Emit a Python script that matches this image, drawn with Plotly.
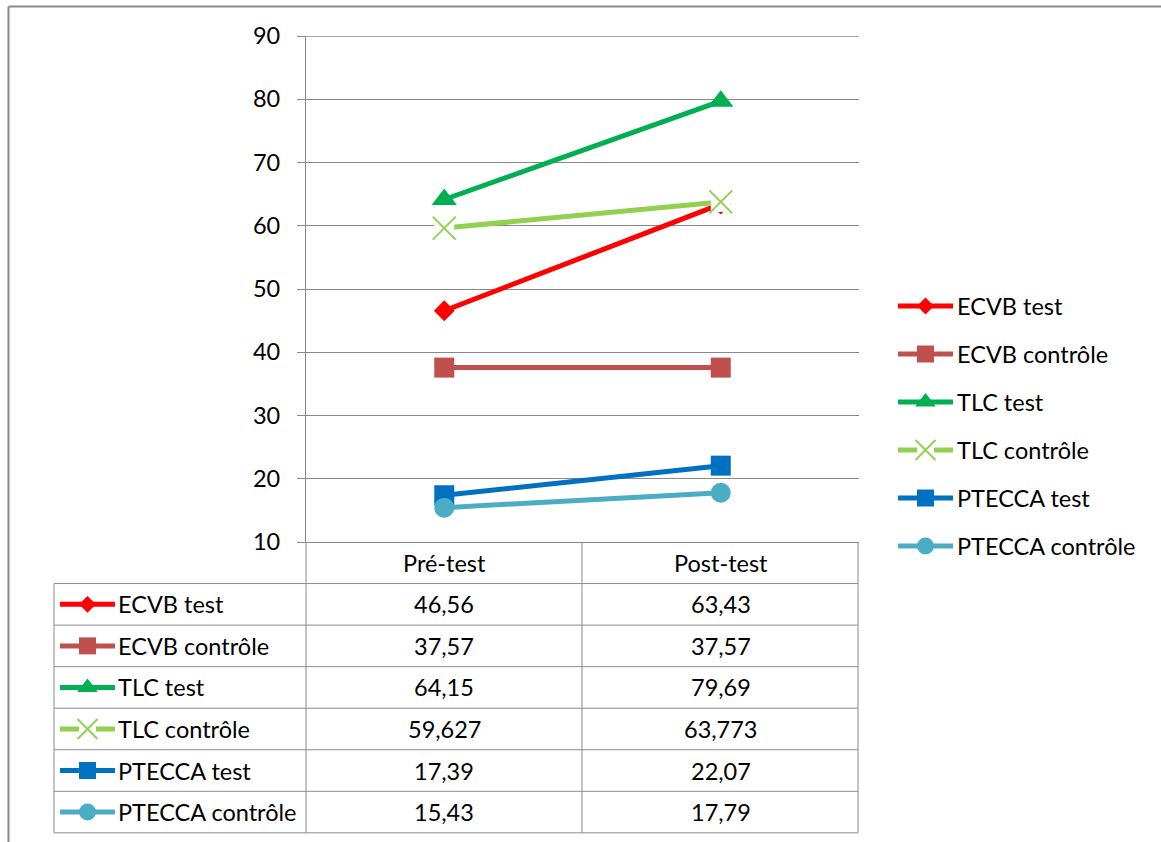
import plotly.graph_objects as go

# ---------------- data ----------------
categories = ["Pré-test", "Post-test"]
series_names = ["ECVB test", "ECVB contrôle", "TLC test", "TLC contrôle",
                "PTECCA test", "PTECCA contrôle"]
ecvb_test = [46.56, 63.43]
ecvb_controle = [37.57, 37.57]
tlc_test = [64.15, 79.69]
tlc_controle = [59.627, 63.773]
ptecca_test = [17.39, 22.07]
ptecca_controle = [15.43, 17.79]
y_ticks = [10, 20, 30, 40, 50, 60, 70, 80, 90]

series_values = [ecvb_test, ecvb_controle, tlc_test, tlc_controle,
                 ptecca_test, ptecca_controle]

# ---------------- styles ----------------
colors = ["#FF0000", "#C0504D", "#00B050", "#92D050", "#0070C0", "#4BACC6"]
symbols = ["diamond", "square", "triangle-up", "x-thin", "square", "circle"]
chart_sizes = [16, 20, 22, 23, 20, 20]
legend_sizes = [13, 17, 18, 20, 17, 17]

W, H = 1161, 842
FONT = "Lato"
FS = 23.5
GRID = "#888888"
BORDER = "#8c8c8c"


def PX(x):
    return x / W


def PY(y):
    return 1 - y / H


# layout geometry (pixels)
PLOT_L, PLOT_R, PLOT_T, PLOT_B = 306, 859, 36, 542
TAB_L, COL1, COL2 = 54, 582, 858
ROW_H = 41.55
LEG_X0, LEG_X1, LEG_Y0, LEG_DY = 898, 953, 306, 48
TKEY_X0, TKEY_X1 = 60, 115

fig = go.Figure()

# ---------------- main chart traces ----------------
for i, (name, vals) in enumerate(zip(series_names, series_values)):
    if symbols[i] == "x-thin":
        fig.add_trace(go.Scatter(x=categories, y=vals, mode="lines",
                                 line=dict(color=colors[i], width=5),
                                 showlegend=False, hoverinfo="skip"))
        fig.add_trace(go.Scatter(x=categories, y=vals, mode="markers",
                                 marker=dict(symbol="square", size=20, color="white"),
                                 showlegend=False, hoverinfo="skip"))
        fig.add_trace(go.Scatter(x=categories, y=vals, mode="markers", name=name,
                                 marker=dict(symbol="x-thin", size=chart_sizes[i],
                                             line=dict(color=colors[i], width=2)),
                                 showlegend=False))
    else:
        fig.add_trace(go.Scatter(x=categories, y=vals, mode="lines+markers", name=name,
                                 line=dict(color=colors[i], width=5),
                                 marker=dict(symbol=symbols[i], size=chart_sizes[i],
                                             color=colors[i]),
                                 showlegend=False))


# ---------------- legend keys (right legend + table) ----------------
def add_key(i, x0, x1, yc, msize):
    xm = (x0 + x1) / 2
    fig.add_trace(go.Scatter(x=[x0, x1], y=[yc, yc], mode="lines", xaxis="x2", yaxis="y2",
                             line=dict(color=colors[i], width=5),
                             showlegend=False, hoverinfo="skip"))
    if symbols[i] == "x-thin":
        fig.add_trace(go.Scatter(x=[xm], y=[yc], mode="markers", xaxis="x2", yaxis="y2",
                                 marker=dict(symbol="square", size=msize * 0.85, color="white"),
                                 showlegend=False, hoverinfo="skip"))
        fig.add_trace(go.Scatter(x=[xm], y=[yc], mode="markers", xaxis="x2", yaxis="y2",
                                 marker=dict(symbol="x-thin", size=msize,
                                             line=dict(color=colors[i], width=2)),
                                 showlegend=False, hoverinfo="skip"))
    else:
        fig.add_trace(go.Scatter(x=[xm], y=[yc], mode="markers", xaxis="x2", yaxis="y2",
                                 marker=dict(symbol=symbols[i], size=msize, color=colors[i]),
                                 showlegend=False, hoverinfo="skip"))


annotations = []
for i, name in enumerate(series_names):
    # right legend
    yl = LEG_Y0 + i * LEG_DY
    add_key(i, LEG_X0, LEG_X1, yl, legend_sizes[i])
    annotations.append(dict(x=PX(LEG_X1 + 2), y=PY(yl), xref="paper", yref="paper",
                            text=name, showarrow=False, xanchor="left", yanchor="middle",
                            font=dict(family=FONT, size=FS, color="black")))
    # table row
    yr = PLOT_B + (i + 1.5) * ROW_H
    add_key(i, TKEY_X0, TKEY_X1, yr, legend_sizes[i])
    annotations.append(dict(x=PX(TKEY_X1 + 1), y=PY(yr), xref="paper", yref="paper",
                            text=name, showarrow=False, xanchor="left", yanchor="middle",
                            font=dict(family=FONT, size=FS, color="black")))
    for j, cat in enumerate(categories):
        annotations.append(dict(x=cat, y=PY(yr), xref="x", yref="paper",
                                text=str(series_values[i][j]).replace(".", ","),
                                showarrow=False, xanchor="center", yanchor="middle",
                                font=dict(family=FONT, size=FS, color="black")))

# header row
for cat in categories:
    annotations.append(dict(x=cat, y=PY(PLOT_B + 0.5 * ROW_H), xref="x", yref="paper",
                            text=cat, showarrow=False, xanchor="center", yanchor="middle",
                            font=dict(family=FONT, size=FS, color="black")))

# ---------------- shapes: table grid & frame ----------------
shapes = []
# top gridline (value 90)
shapes.append(dict(type="line", xref="x domain", yref="y",
                   x0=0, x1=1, y0=y_ticks[-1], y1=y_ticks[-1],
                   line=dict(color=GRID, width=1.3)))
tab_bottom = PLOT_B + 7 * ROW_H
for k in range(1, 8):
    yk = PLOT_B + k * ROW_H
    shapes.append(dict(type="line", xref="paper", yref="paper",
                       x0=PX(TAB_L), x1=PX(COL2), y0=PY(yk), y1=PY(yk),
                       line=dict(color=BORDER, width=1)))
shapes.append(dict(type="line", xref="paper", yref="paper",
                   x0=PX(TAB_L), x1=PX(TAB_L), y0=PY(PLOT_B + ROW_H), y1=PY(tab_bottom),
                   line=dict(color=BORDER, width=1)))
for xc in (PLOT_L, COL1, COL2):
    shapes.append(dict(type="line", xref="paper", yref="paper",
                       x0=PX(xc), x1=PX(xc), y0=PY(PLOT_B), y1=PY(tab_bottom),
                       line=dict(color=BORDER, width=1)))
# outer frame (left and top)
shapes.append(dict(type="line", xref="paper", yref="paper",
                   x0=PX(8.5), x1=PX(8.5), y0=PY(6.5), y1=PY(H + 5),
                   line=dict(color="#8a8a8a", width=2)))
shapes.append(dict(type="line", xref="paper", yref="paper",
                   x0=PX(8.5), x1=PX(W + 5), y0=PY(6.5), y1=PY(6.5),
                   line=dict(color="#8a8a8a", width=2)))

fig.update_layout(
    width=W, height=H,
    margin=dict(l=0, r=0, t=0, b=0, pad=0, autoexpand=False),
    paper_bgcolor="white",
    plot_bgcolor="rgba(0,0,0,0)",
    showlegend=False,
    font=dict(family=FONT, size=FS, color="black"),
    xaxis=dict(domain=[PX(PLOT_L), PX(PLOT_R)], type="category",
               categoryorder="array", categoryarray=categories,
               range=[-0.5, 1.5], showticklabels=False, ticks="",
               showgrid=False, zeroline=False, showline=True,
               linecolor=GRID, linewidth=1.3, fixedrange=True, automargin=False),
    yaxis=dict(domain=[PY(PLOT_B), PY(PLOT_T)], range=[10, 90],
               tickvals=y_ticks, ticks="outside", ticklen=8, tickcolor=GRID,
               tickwidth=1.3, ticklabelstandoff=12,
               showgrid=True, gridcolor=GRID, gridwidth=1.3,
               zeroline=False, showline=True, linecolor=GRID, linewidth=1.3,
               tickfont=dict(family=FONT, size=FS, color="black"), fixedrange=True,
               automargin=False),
    xaxis2=dict(domain=[0, 1], range=[0, W], visible=False, fixedrange=True,
                anchor="y2", automargin=False),
    yaxis2=dict(domain=[0, 1], range=[H, 0], visible=False, fixedrange=True,
                anchor="x2", automargin=False),
    annotations=annotations,
    shapes=shapes,
)

fig.write_html("out.html")
